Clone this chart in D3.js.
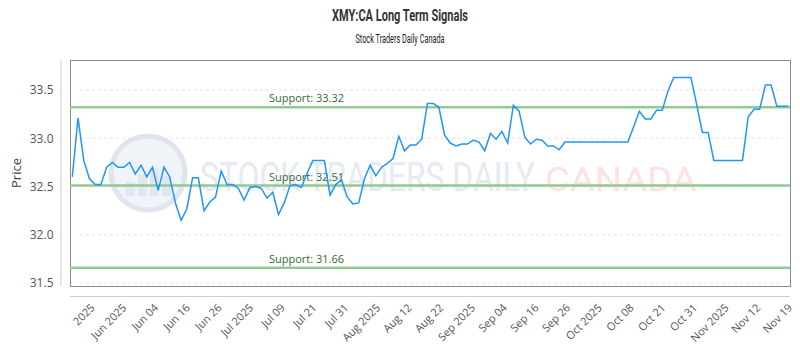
<!DOCTYPE html>
<html>
<head>
<meta charset="utf-8">
<script src="https://cdn.jsdelivr.net/npm/d3@7"></script>
<style>
  body { margin: 0; background: #fff; }
  svg { display: block; font-family: "Open Sans", sans-serif; }
</style>
</head>
<body>
<div id="chart"></div>
<script>
// closing prices, one per trading day
const prices = [
  32.60, 33.21, 32.77, 32.58, 32.52, 32.52, 32.70, 32.75, 32.70, 32.70,
  32.75, 32.63, 32.72, 32.60, 32.70, 32.46, 32.70, 32.60, 32.33, 32.15,
  32.27, 32.59, 32.59, 32.25, 32.34, 32.39, 32.66, 32.52, 32.52, 32.48,
  32.36, 32.49, 32.50, 32.48, 32.38, 32.44, 32.21, 32.33, 32.51, 32.52,
  32.49, 32.64, 32.77, 32.77, 32.77, 32.41, 32.52, 32.57, 32.39, 32.32,
  32.33, 32.58, 32.72, 32.61, 32.70, 32.74, 32.79, 33.02, 32.87, 32.93,
  32.93, 32.99, 33.36, 33.36, 33.32, 33.03, 32.95, 32.92, 32.94, 32.94,
  32.98, 32.96, 32.87, 33.05, 32.99, 33.07, 32.95, 33.34, 33.28, 33.01,
  32.94, 32.99, 32.98, 32.92, 32.92, 32.88, 32.96, 32.96, 32.96, 32.96,
  32.96, 32.96, 32.96, 32.96, 32.96, 32.96, 32.96, 32.96, 33.12, 33.28,
  33.20, 33.20, 33.29, 33.29, 33.49, 33.63, 33.63, 33.63, 33.63, 33.35,
  33.06, 33.06, 32.77, 32.77, 32.77, 32.77, 32.77, 32.77, 33.22, 33.30,
  33.30, 33.55, 33.55, 33.33, 33.33, 33.33
];

const tickLabels = [
  "2025", "Jun 2025", "Jun 04", "Jun 16", "Jun 26", "Jul 2025", "Jul 09",
  "Jul 21", "Jul 31", "Aug 2025", "Aug 12", "Aug 22", "Sep 2025", "Sep 04",
  "Sep 16", "Sep 26", "Oct 2025", "Oct 08", "Oct 21", "Oct 31", "Nov 2025",
  "Nov 12", "Nov 19"
];

const supports = [33.32, 32.51, 31.66];
const yTicks = [31.5, 32.0, 32.5, 33.0, 33.5];

const width = 800, height = 350;
const plot = { left: 70, right: 790, top: 60, bottom: 286 };

const svg = d3.select("#chart").append("svg")
  .attr("width", width)
  .attr("height", height);

const x = d3.scaleLinear()
  .domain([0, prices.length - 1])
  .range([72.3, 788.3]);

const y = d3.scaleLinear()
  .domain([31.47, 33.81])
  .range([plot.bottom, plot.top]);

const xLab = d3.scalePoint()
  .domain(tickLabels)
  .range([89.6, 787]);

// titles
svg.append("text")
  .attr("x", 400).attr("y", 21)
  .attr("text-anchor", "middle")
  .attr("textLength", 136).attr("lengthAdjust", "spacingAndGlyphs")
  .style("font-family", "Roboto, sans-serif")
  .style("font-size", "16px").style("font-weight", "700")
  .style("fill", "#333")
  .text("XMY:CA Long Term Signals");

svg.append("text")
  .attr("x", 400).attr("y", 43)
  .attr("text-anchor", "middle")
  .attr("textLength", 89).attr("lengthAdjust", "spacingAndGlyphs")
  .style("font-family", "Roboto, sans-serif")
  .style("font-size", "12px")
  .style("fill", "#222")
  .text("Stock Traders Daily Canada");

// watermark
const wm = svg.append("g").attr("class", "watermark");
wm.append("circle")
  .attr("cx", 148).attr("cy", 173).attr("r", 37)
  .style("fill", "#f0f3f8").style("stroke", "#dfe5ee").style("stroke-width", 5);
[[126, 14], [138, 22], [150, 28], [162, 20]].forEach(([bx, bh]) => {
  wm.append("rect")
    .attr("x", bx).attr("y", 196 - bh).attr("width", 9).attr("height", bh)
    .style("fill", "#e1e7ef");
});
wm.append("text")
  .attr("x", 200).attr("y", 191)
  .attr("textLength", 335).attr("lengthAdjust", "spacingAndGlyphs")
  .style("font-family", "Roboto, sans-serif")
  .style("font-size", "41px")
  .style("fill", "#e6eaf1")
  .text("STOCK TRADERS DAILY");
wm.append("text")
  .attr("x", 545).attr("y", 191)
  .attr("textLength", 152).attr("lengthAdjust", "spacingAndGlyphs")
  .style("font-family", "Roboto, sans-serif")
  .style("font-size", "33px")
  .style("fill", "#fde2df")
  .text("CANADA");

// gridlines
svg.append("g").selectAll("line")
  .data(yTicks)
  .enter().append("line")
  .attr("x1", 80).attr("x2", 783)
  .attr("y1", d => y(d)).attr("y2", d => y(d))
  .style("stroke", "#e3e3e3")
  .style("stroke-dasharray", "3,3");

// frame
svg.append("rect")
  .attr("x", plot.left + 0.5).attr("y", plot.top + 0.5)
  .attr("width", plot.right - plot.left).attr("height", plot.bottom - plot.top)
  .style("fill", "none").style("stroke", "#8a8a8a");

// support levels
const sup = svg.append("g").selectAll("g")
  .data(supports)
  .enter().append("g");

sup.append("line")
  .attr("x1", plot.left).attr("x2", plot.right)
  .attr("y1", d => y(d)).attr("y2", d => y(d))
  .style("stroke", "#93c993")
  .style("stroke-width", 2.5);

sup.append("text")
  .attr("x", 269).attr("y", d => y(d) - 5)
  .style("font-size", "11px")
  .style("fill", "#2f6b33")
  .text(d => "Support: " + d.toFixed(2));

// price line
svg.append("path")
  .datum(prices)
  .attr("d", d3.line().x((d, i) => x(i)).y(d => y(d)))
  .style("fill", "none")
  .style("stroke", "#2196f3")
  .style("stroke-width", 1.5);

// y axis
const yAxis = svg.append("g")
  .attr("transform", "translate(60.5,0)")
  .call(d3.axisLeft(y).tickValues(yTicks).tickFormat(d3.format(".1f")).tickSize(0).tickPadding(7));
yAxis.select(".domain").style("stroke", "#ccc");
yAxis.selectAll("text")
  .style("font-family", "Open Sans, sans-serif")
  .style("font-size", "12px")
  .style("fill", "#555");

svg.append("text")
  .attr("transform", "translate(21,173) rotate(-90)")
  .attr("text-anchor", "middle")
  .style("font-size", "13px")
  .style("fill", "#444")
  .text("Price");

// x axis
svg.append("line")
  .attr("x1", plot.left).attr("x2", plot.right)
  .attr("y1", 296.5).attr("y2", 296.5)
  .style("stroke", "#ccc");

const xAxis = svg.append("g")
  .attr("transform", "translate(0,303)")
  .call(d3.axisBottom(xLab).tickSize(0).tickPadding(0));
xAxis.select(".domain").remove();
xAxis.selectAll("text")
  .attr("y", 0).attr("dy", "0.7em").attr("dx", 0)
  .attr("transform", "rotate(-45)")
  .style("text-anchor", "end")
  .style("font-family", "Open Sans, sans-serif")
  .style("font-size", "11px")
  .style("fill", "#555");
</script>
</body>
</html>
